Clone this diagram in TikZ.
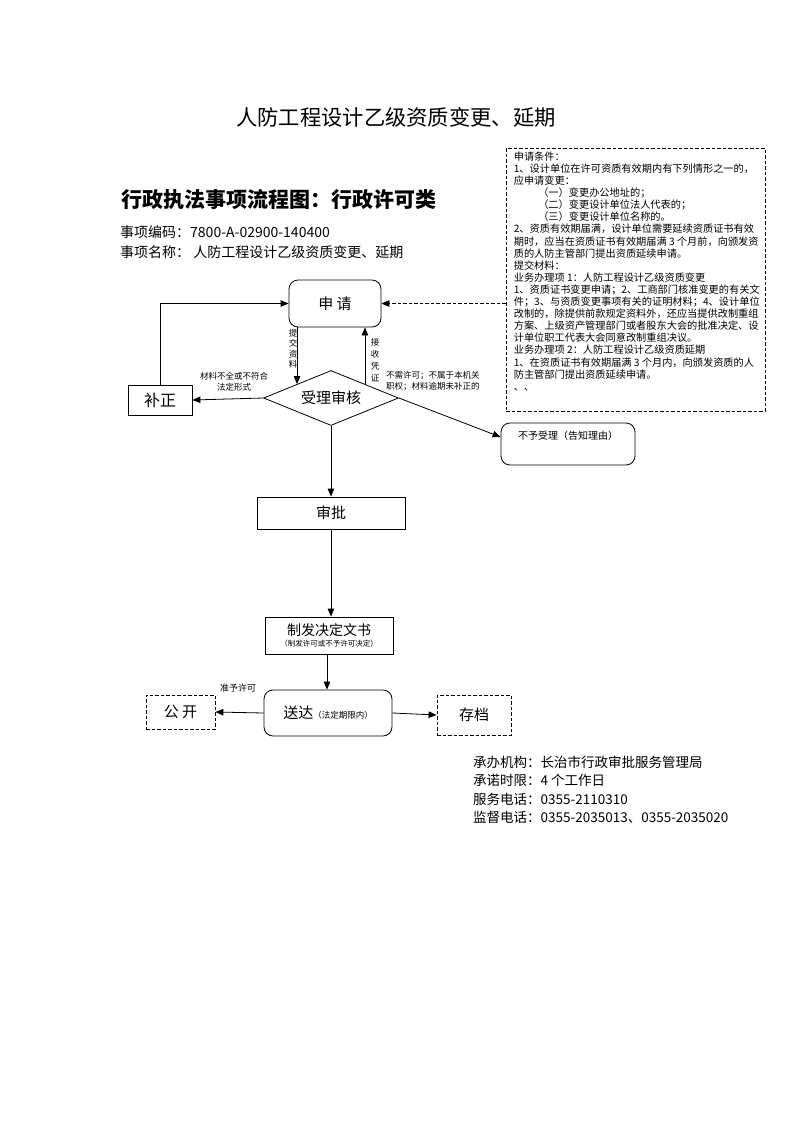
\documentclass[tikz,border=0pt]{standalone}
\usepackage{fontspec}
\setmainfont{Noto Sans CJK SC}
\usetikzlibrary{arrows.meta,shapes.geometric}
\tikzset{
  caja/.style={
    draw,
    line width=0.8pt,
    align=center,
    inner sep=0pt,
    font=\fontsize{15}{17}\selectfont
  },
  redondo/.style={
    caja,
    rounded corners=9pt
  },
  punteado/.style={
    caja,
    dash pattern=on 3.5pt off 2pt
  },
  rombo/.style={
    caja,
    diamond,
    aspect=2.45,
    minimum width=135pt,
    minimum height=55pt
  },
  nota/.style={
    align=center,
    inner sep=0pt,
    font=\fontsize{8.5}{11}\selectfont
  },
  arrow/.style={
    -{Triangle[length=8pt,width=6.5pt]},
    line width=0.8pt
  }
}

\begin{document}
\begin{tikzpicture}[x=1pt,y=-1pt]
\useasboundingbox (0,0) rectangle (793,1122);

\node[inner sep=0pt, font=\fontsize{21.3}{23}\selectfont] (titulo) at (396,117) {人防工程设计乙级资质变更、延期};
\node[inner sep=0pt, anchor=west, font=\fontsize{21}{23}\selectfont\bfseries] (clase) at (121,200) {行政执法事项流程图：行政许可类};
\node[inner sep=0pt, anchor=west, font=\fontsize{14}{16}\selectfont] (codigo) at (120,232) {事项编码：7800-A-02900-140400};
\node[inner sep=0pt, anchor=west, font=\fontsize{14}{16}\selectfont] (nombre) at (120,252) {事项名称：\ 人防工程设计乙级资质变更、延期};

\node[punteado, minimum width=259pt, minimum height=263pt] (tiaojian) at (635.5,279.5) {};
\node[inner sep=0pt, anchor=north west, align=left, font=\fontsize{10.2}{12.1}\selectfont] (tiaotxt) at ([xshift=8pt,yshift=-4pt]tiaojian.north west) {申请条件：\\
1、设计单位在许可资质有效期内有下列情形之一的，\\
应申请变更：\\
\hspace*{2.4em}（一）变更办公地址的；\\
\hspace*{2.4em}（二）变更设计单位法人代表的；\\
\hspace*{2.4em}（三）变更设计单位名称的。\\
2、资质有效期届满，设计单位需要延续资质证书有效\\
期时，应当在资质证书有效期届满 3 个月前，向颁发资\\
质的人防主管部门提出资质延续申请。\\
提交材料：\\
业务办理项 1：人防工程设计乙级资质变更\\
1、资质证书变更申请；2、工商部门核准变更的有关文\\
件；3、与资质变更事项有关的证明材料；4、设计单位\\
改制的，除提供前款规定资料外，还应当提供改制重组\\
方案、上级资产管理部门或者股东大会的批准决定、设\\
计单位职工代表大会同意改制重组决议。\\
业务办理项 2：人防工程设计乙级资质延期\\
1、在资质证书有效期届满 3 个月内，向颁发资质的人\\
防主管部门提出资质延续申请。\\
、、};

\node[redondo, minimum width=92pt, minimum height=47pt] (shenqing) at (335,303.5) {申\ 请};
\node[rombo] (shenhe) at (331,398) {受理审核};
\node[caja, minimum width=64pt, minimum height=30pt, font=\fontsize{16}{18}\selectfont] (buzheng) at (160,400) {补正};
\node[redondo, minimum width=134pt, minimum height=42pt, text height=8pt, text depth=18pt, font=\fontsize{10}{12}\selectfont] (buyu) at (568,444) {不予受理（告知理由）};
\node[caja, minimum width=148pt, minimum height=32pt] (shenpi) at (331,513) {审批};
\node[caja, minimum width=128pt, minimum height=37pt, font=\fontsize{14}{12}\selectfont] (zhifa) at (329,635.5) {制发决定文书\\[-1pt]{\fontsize{7.5}{9}\selectfont（制发许可或不予许可决定）}};
\node[redondo, minimum width=128pt, minimum height=46pt] (songda) at (328,713) {送达{\fontsize{8.5}{10}\selectfont（法定期限内）}};
\node[punteado, minimum width=69pt, minimum height=34pt] (gongkai) at (180.5,712) {公\ 开};
\node[punteado, minimum width=74pt, minimum height=40pt] (cundang) at (474,715) {存档};

\node[nota, font=\fontsize{8.5}{10.5}\selectfont] (tijiao) at (293,349) {提\\交\\资\\料};
\node[nota, font=\fontsize{8.5}{12}\selectfont] (jieshou) at (375,360) {接\\收\\凭\\证};
\node[nota] (buquan) at (234,381.5) {材料不全或不符合\\法定形式};
\node[nota, anchor=west, align=left] (buxu) at (386,381.5) {不需许可；不属于本机关\\职权；材料逾期未补正的};
\node[nota, font=\fontsize{9}{11}\selectfont] (zhunyu) at (238,688) {准予许可};

\node[inner sep=0pt, anchor=north west, align=left, font=\fontsize{13.5}{18.3}\selectfont] (info) at (473,756) {承办机构：长治市行政审批服务管理局\\
承诺时限：4 个工作日\\
服务电话：0355-2110310\\
监督电话：0355-2035013、0355-2035020};

\draw[arrow] (shenqing.south -| shenhe.north west) -- (shenhe.north west);
\draw[arrow] (shenhe.north east) -- (shenhe.north east |- shenqing.south);
\draw[arrow] (shenhe.west) -- (buzheng.east);
\draw[arrow] (buzheng.north) -- (buzheng.north |- shenqing.west) -- (shenqing.west);
\draw[arrow, dash pattern=on 3.5pt off 2pt] (tiaojian.west |- shenqing.east) -- (shenqing.east);
\draw[arrow] (shenhe.east) -- ([yshift=7pt]buyu.west);
\draw[arrow] (shenhe.south) -- (shenpi.north);
\draw[arrow] (shenpi.south) -- (shenpi.south |- zhifa.north);
\draw[arrow] ([xshift=-2pt]zhifa.south) -- ([xshift=-2pt]zhifa.south |- songda.north);
\draw[arrow] (songda.west) -- (gongkai.east);
\draw[arrow] (songda.east) -- (cundang.west);
\end{tikzpicture}
\end{document}
